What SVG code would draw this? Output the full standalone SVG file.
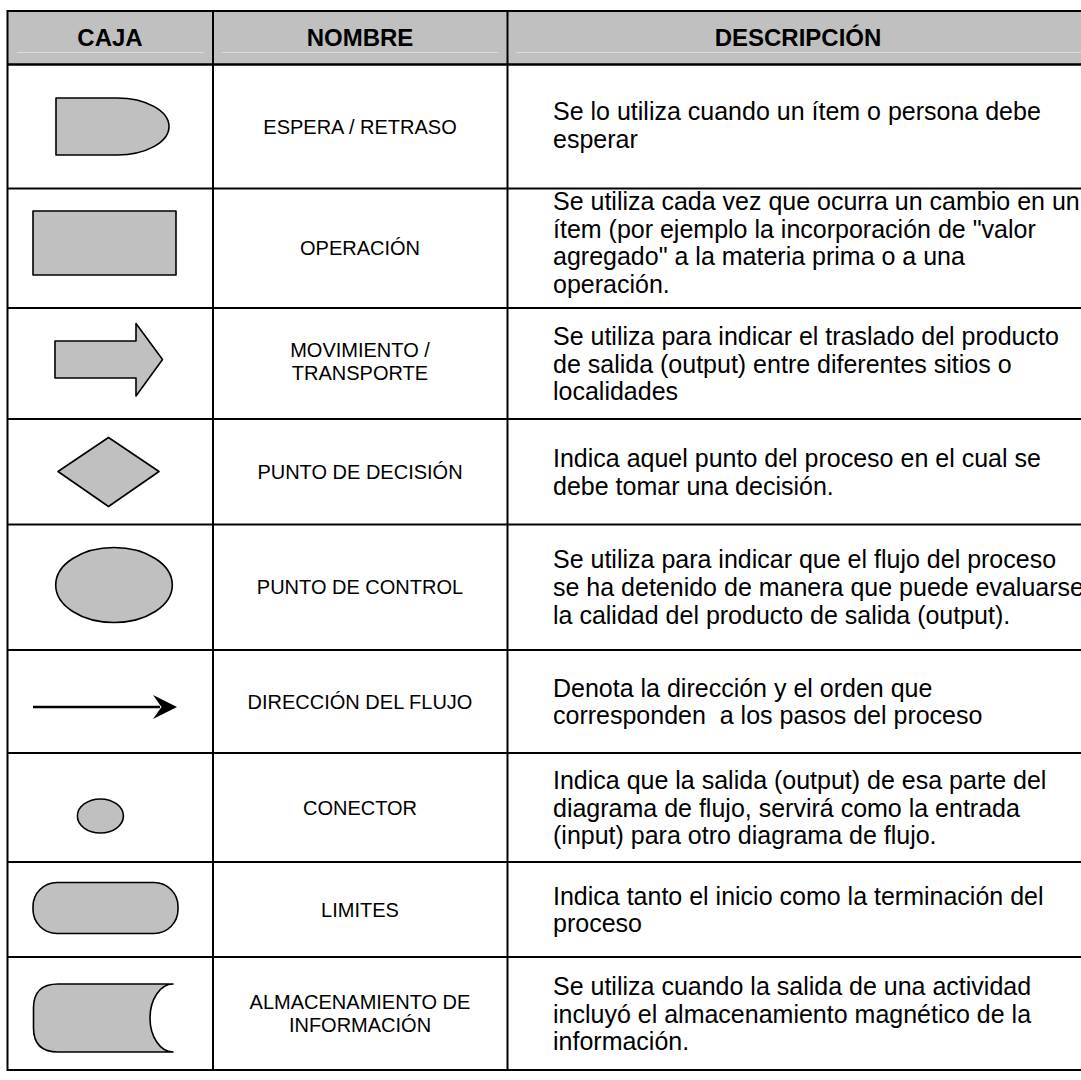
<svg xmlns="http://www.w3.org/2000/svg" width="1081" height="1080" viewBox="0 0 1081 1080">
  <style>
    .grid { stroke: #000; stroke-width: 2; fill: none; }
    .sym { fill: #c0c0c0; stroke: #000; stroke-width: 1.6; stroke-linejoin: round; }
    .hd { font-family: "Liberation Sans", Arial, sans-serif; font-weight: bold; font-size: 24px; fill: #000; text-anchor: middle; }
    .nm { font-family: "Liberation Sans", Arial, sans-serif; font-size: 20px; fill: #000; text-anchor: middle; }
    .ds { font-family: "Liberation Sans", Arial, sans-serif; font-size: 25px; fill: #000; }
    .sep { stroke: #dcdcdc; stroke-width: 1; }
  </style>

  <rect width="1081" height="1080" fill="#fff"/>

  <!-- header band -->
  <g id="header">
    <rect x="7.5" y="11" width="1090" height="53.5" fill="#c0c0c0"/>
    <line class="sep" x1="17" y1="52.5" x2="204" y2="52.5"/>
    <line class="sep" x1="222" y1="52.5" x2="498" y2="52.5"/>
    <line class="sep" x1="516" y1="52.5" x2="1081" y2="52.5"/>
    <text class="hd" x="110" y="46">CAJA</text>
    <text class="hd" x="360" y="46">NOMBRE</text>
    <text class="hd" x="798" y="46">DESCRIPCIÓN</text>
  </g>

  <!-- table rules -->
  <g id="table-grid" class="grid">
    <line x1="7.5" y1="11" x2="1090" y2="11"/>
    <line x1="7.5" y1="64.5" x2="1090" y2="64.5" stroke-width="2.5"/>
    <line x1="7.5" y1="188.5" x2="1090" y2="188.5"/>
    <line x1="7.5" y1="308" x2="1090" y2="308"/>
    <line x1="7.5" y1="419" x2="1090" y2="419"/>
    <line x1="7.5" y1="524.5" x2="1090" y2="524.5"/>
    <line x1="7.5" y1="650" x2="1090" y2="650"/>
    <line x1="7.5" y1="753" x2="1090" y2="753"/>
    <line x1="7.5" y1="862" x2="1090" y2="862"/>
    <line x1="7.5" y1="957" x2="1090" y2="957"/>
    <line x1="7.5" y1="1070" x2="1090" y2="1070"/>
    <line x1="7.5" y1="10" x2="7.5" y2="1071"/>
    <line x1="213" y1="11" x2="213" y2="1070"/>
    <line x1="507.5" y1="11" x2="507.5" y2="1070"/>
  </g>

  <!-- connectors: the legend has no links between rows -->
  <g id="connectors"/>

  <g id="row-espera">
    <path class="sym" d="M56 98 H117 A52 28.5 0 0 1 117 155 H56 Z"/>
    <text class="nm" x="360" y="133.5">ESPERA / RETRASO</text>
    <text class="ds" x="553"><tspan x="553" y="120">Se lo utiliza cuando un ítem o persona debe</tspan><tspan x="553" y="147.6">esperar</tspan></text>
  </g>

  <g id="row-operacion">
    <rect class="sym" x="33" y="211" width="143" height="64" stroke-linejoin="miter"/>
    <text class="nm" x="360" y="255">OPERACIÓN</text>
    <text class="ds"><tspan x="553" y="210">Se utiliza cada vez que ocurra un cambio en un</tspan><tspan x="553" y="237.6">ítem (por ejemplo la incorporación de "valor</tspan><tspan x="553" y="265.2">agregado" a la materia prima o a una</tspan><tspan x="553" y="292.8">operación.</tspan></text>
  </g>

  <g id="row-movimiento">
    <polygon class="sym" points="55,341 136,341 136,323.5 162.5,359.5 136,396 136,378 55,378" stroke-linejoin="miter"/>
    <text class="nm"><tspan x="360" y="357">MOVIMIENTO /</tspan><tspan x="360" y="380">TRANSPORTE</tspan></text>
    <text class="ds"><tspan x="553" y="344.9">Se utiliza para indicar el traslado del producto</tspan><tspan x="553" y="372.5">de salida (output) entre diferentes sitios o</tspan><tspan x="553" y="400.1">localidades</tspan></text>
  </g>

  <g id="row-decision">
    <polygon class="sym" points="108.5,437.5 159,471.5 108.5,506.5 58,471.5" stroke-linejoin="miter"/>
    <text class="nm" x="360" y="478.7">PUNTO DE DECISIÓN</text>
    <text class="ds"><tspan x="553" y="466.9">Indica aquel punto del proceso en el cual se</tspan><tspan x="553" y="494.5">debe tomar una decisión.</tspan></text>
  </g>

  <g id="row-control">
    <ellipse class="sym" cx="114" cy="585" rx="58.3" ry="37.5"/>
    <text class="nm" x="360" y="594">PUNTO DE CONTROL</text>
    <text class="ds"><tspan x="553" y="568.4">Se utiliza para indicar que el flujo del proceso</tspan><tspan x="553" y="596">se ha detenido de manera que puede evaluarse</tspan><tspan x="553" y="623.6">la calidad del producto de salida (output).</tspan></text>
  </g>

  <g id="row-flujo">
    <line x1="33" y1="707" x2="160" y2="707" stroke="#000" stroke-width="2.4"/>
    <polygon points="177,707 153,695 161.5,707 153,719" fill="#000"/>
    <text class="nm" x="360" y="708.5">DIRECCIÓN DEL FLUJO</text>
    <text class="ds" xml:space="preserve"><tspan x="553" y="696.7">Denota la dirección y el orden que</tspan><tspan x="553" y="724.3">corresponden  a los pasos del proceso</tspan></text>
  </g>

  <g id="row-conector">
    <ellipse class="sym" cx="100.4" cy="816" rx="23" ry="17"/>
    <text class="nm" x="360" y="814.5">CONECTOR</text>
    <text class="ds"><tspan x="553" y="788.9">Indica que la salida (output) de esa parte del</tspan><tspan x="553" y="816.5">diagrama de flujo, servirá como la entrada</tspan><tspan x="553" y="844.1">(input) para otro diagrama de flujo.</tspan></text>
  </g>

  <g id="row-limites">
    <rect class="sym" x="33" y="882.5" width="145" height="51" rx="24" ry="24"/>
    <text class="nm" x="360" y="916.5">LIMITES</text>
    <text class="ds"><tspan x="553" y="904.7">Indica tanto el inicio como la terminación del</tspan><tspan x="553" y="932.3">proceso</tspan></text>
  </g>

  <g id="row-almacenamiento">
    <path class="sym" d="M173 984 H58 Q33.5 984 33.5 1008 V1028 Q33.5 1052 58 1052 H173 A23 34 0 0 1 173 984 Z"/>
    <text class="nm"><tspan x="360" y="1009">ALMACENAMIENTO DE</tspan><tspan x="360" y="1032">INFORMACIÓN</tspan></text>
    <text class="ds"><tspan x="553" y="994.9">Se utiliza cuando la salida de una actividad</tspan><tspan x="553" y="1022.5">incluyó el almacenamiento magnético de la</tspan><tspan x="553" y="1050.1">información.</tspan></text>
  </g>
</svg>
